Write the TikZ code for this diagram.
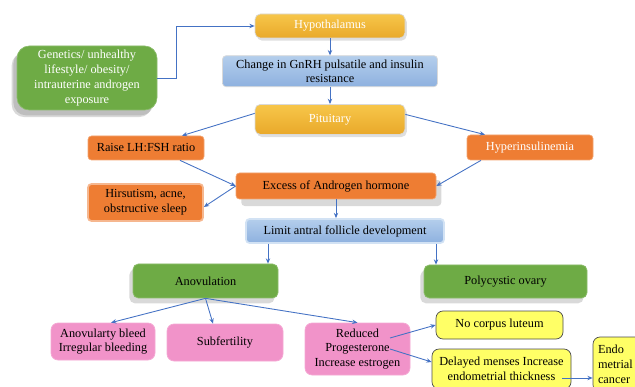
\documentclass[tikz,border=0pt]{standalone}
\usepackage{fontspec}
\setmainfont{Liberation Serif}
\usepackage{xcolor}
\usepackage{tikz}
\usetikzlibrary{positioning,arrows.meta,shadows}

\definecolor{goldtop}{HTML}{F7C64A}
\definecolor{goldbot}{HTML}{E9A92A}
\definecolor{bluetop}{HTML}{B4CEEC}
\definecolor{bluebot}{HTML}{8EB1DF}
\definecolor{orangefill}{HTML}{EE7D33}
\definecolor{greenfill}{HTML}{6EAB45}
\definecolor{pinkfill}{HTML}{F193C9}
\definecolor{yellowfill}{HTML}{FFFF66}
\definecolor{arrowblue}{HTML}{4472C4}

\begin{document}
\begin{tikzpicture}[
    font=\fontsize{7}{8.4}\selectfont,
    every node/.style={inner sep=2pt},
    gold/.style={rectangle, draw=white!70!gray, top color=goldtop, bottom color=goldbot,
                 rounded corners=3pt, text=white, align=center,
                 drop shadow={opacity=0.25, shadow xshift=1pt, shadow yshift=-1.5pt}},
    bluebox/.style={rectangle, draw=white!70!gray, top color=bluetop, bottom color=bluebot,
                    rounded corners=2pt, align=center},
    orange/.style={rectangle, draw=orangefill!70, fill=orangefill, rounded corners=2pt, align=center},
    green/.style={rectangle, draw=greenfill!80!white, fill=greenfill, rounded corners=3pt, align=center,
                  drop shadow={opacity=0.3, shadow xshift=-2pt, shadow yshift=-3pt}},
    pink/.style={rectangle, draw=pinkfill!80!white, fill=pinkfill, rounded corners=4pt, align=center},
    yellowbox/.style={rectangle, draw=black!70, fill=yellowfill, rounded corners=4pt, align=center},
    arr/.style={-{Stealth[length=3pt,width=2.5pt]}, color=arrowblue, line width=0.5pt}
]
\useasboundingbox (0,0) rectangle (12.7,-7.74);

% Top chain
\node[gold, minimum width=3.0cm, minimum height=0.48cm] (hypo) at (6.6,-0.52) {Hypothalamus};
\node[bluebox, below=0.34cm of hypo, minimum width=4.3cm, minimum height=0.62cm] (gnrh)
      {Change in GnRH pulsatile and insulin\\resistance};
\node[gold, below=0.34cm of gnrh, minimum width=3.0cm, minimum height=0.6cm] (pit) {Pituitary};

% Cause
\node[green, rounded corners=7pt, text=white, minimum width=2.8cm, minimum height=1.28cm,
      drop shadow={opacity=0.3, shadow xshift=-3pt, shadow yshift=-4pt}] (gen) at (1.74,-1.56)
      {Genetics/ unhealthy\\lifestyle/ obesity/\\intrauterine androgen\\exposure};

% Hormones
\node[orange, minimum width=2.32cm, minimum height=0.48cm] (raise) at (2.92,-2.96) {Raise LH:FSH ratio};
\node[orange, text=white, minimum width=2.52cm, minimum height=0.5cm] (hyper) at (10.6,-2.95) {Hyperinsulinemia};
\node[orange, minimum width=4.0cm, minimum height=0.52cm,
      drop shadow={opacity=0.3, shadow xshift=3pt, shadow yshift=-4pt}] (excess) at (6.72,-3.72)
      {Excess of Androgen hormone};
\node[orange, draw=orangefill!55!white, line width=1pt, minimum width=2.3cm, minimum height=0.74cm]
      (hirs) at (2.91,-4.05) {Hirsutism, acne,\\obstructive sleep};
\node[bluebox, draw=bluetop!60!white, line width=1pt, minimum width=3.96cm, minimum height=0.48cm]
      (limit) at (6.9,-4.62) {Limit antral follicle development};

% Ovary
\node[green, minimum width=2.9cm, minimum height=0.68cm] (anov) at (4.11,-5.62) {Anovulation};
\node[green, minimum width=3.26cm, minimum height=0.66cm] (poly) at (10.11,-5.63) {Polycystic ovary};

% Outcomes
\node[pink, minimum width=2.08cm, minimum height=0.74cm] (bleed) at (2.06,-6.83) {Anovularty bleed\\Irregular bleeding};
\node[pink, minimum width=2.32cm, minimum height=0.74cm] (subf) at (4.5,-6.85) {Subfertility};
\node[pink, minimum width=2.1cm, minimum height=1.04cm] (reduced) at (7.15,-6.98)
      {Reduced\\Progesterone\\Increase estrogen};
\node[yellowbox, minimum width=2.54cm, minimum height=0.56cm] (corpus) at (9.99,-6.5) {No corpus luteum};
\node[yellowbox, minimum width=2.78cm, minimum height=0.8cm] (delayed) at (10.03,-7.38)
      {Delayed menses Increase\\endometrial thickness};
\node[yellowbox, align=left, minimum width=1.1cm, minimum height=1.1cm, text width=0.9cm] (endo) at (12.41,-7.29)
      {Endo\\metrial\\cancer};

% Arrows
\draw[arr] (gen.east) -- ++(0.38,0) |- (hypo.west);
\draw[arr] (hypo.south) -- (gnrh.north);
\draw[arr] (gnrh.south) -- (pit.north);
\draw[arr] ([yshift=0.12cm]pit.west) -- ([xshift=0.72cm]raise.north);
\draw[arr] ([yshift=0.1cm]pit.east) -- ([xshift=-0.9cm]hyper.north);
\draw[arr] ([xshift=0.68cm]raise.south) -- (excess.west);
\draw[arr] (excess.west) -- ([yshift=-0.09cm]hirs.east);
\draw[arr] ([xshift=-0.98cm]hyper.south) -- (excess.east);
\draw[arr] (excess.south) -- (excess.south |- limit.north);
\draw[arr] ([xshift=-1.54cm]limit.south) -- ([xshift=-1.54cm]limit.south |- anov.north);
\draw[arr] ([xshift=1.82cm]limit.south) -- ([xshift=1.82cm]limit.south |- poly.north);
\draw[arr] (anov.south) -- ([xshift=0.16cm]bleed.north);
\draw[arr] (anov.south) -- ([xshift=-0.24cm]subf.north);
\draw[arr] (anov.south) -- (reduced.north);
\draw[arr] ([shift={(0.65,0.22)}]reduced.center) -- (corpus.west);
\draw[arr] ([xshift=0.65cm]reduced.center) -- ([yshift=0.14cm]delayed.west);
\draw[arr] ([xshift=-0.18cm,yshift=-0.18cm]delayed.east) coordinate (dstart) -- (dstart -| endo.west);

\end{tikzpicture}
\end{document}
